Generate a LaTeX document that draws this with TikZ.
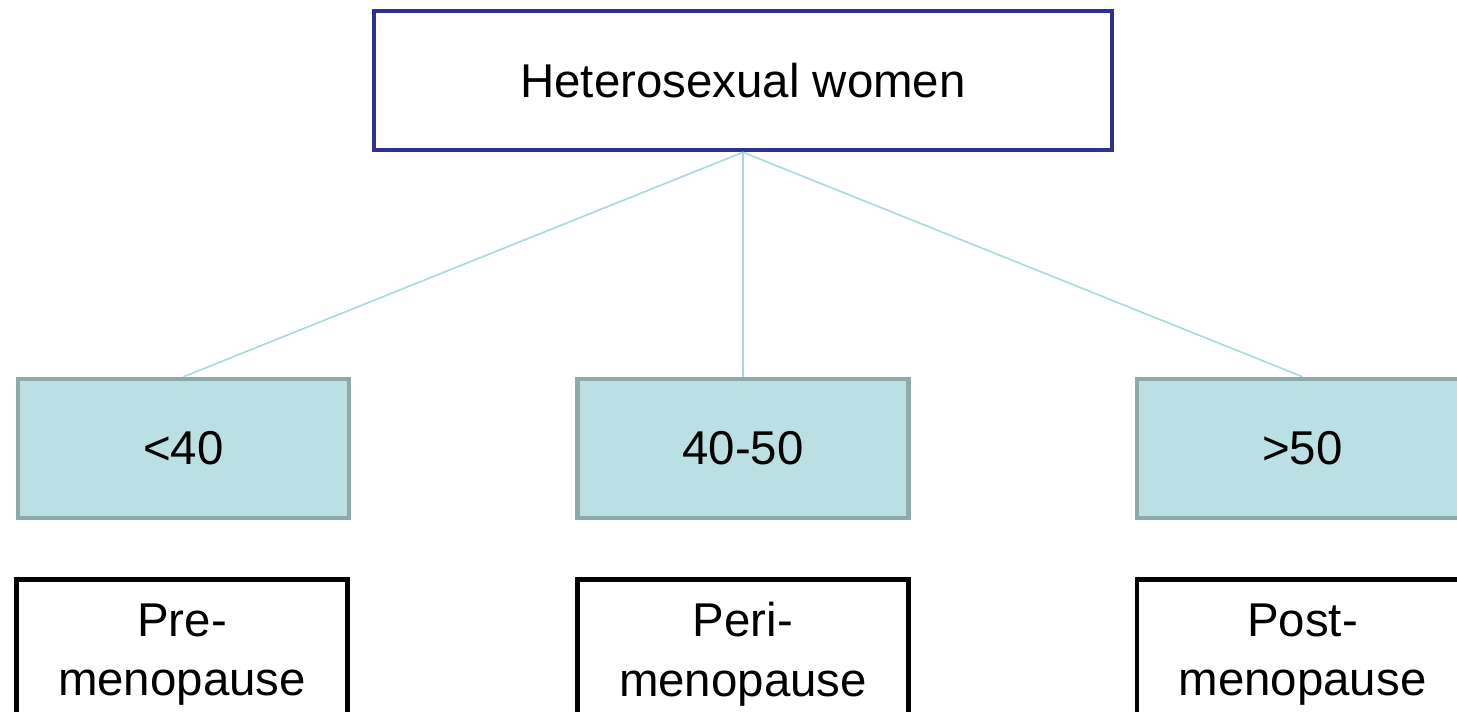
\documentclass[tikz,border=0pt]{standalone}
\usepackage{fontspec}
\setmainfont{Liberation Sans}
\definecolor{topblue}{HTML}{2E3192}
\definecolor{agefill}{HTML}{BBE0E3}
\definecolor{ageline}{HTML}{8DA9AA}
\definecolor{linkline}{HTML}{A8D8DC}
\begin{document}
\begin{tikzpicture}[x=0.02cm,y=-0.02cm,
    every node/.style={font=\fontsize{27}{34}\selectfont},
    topbox/.style={draw=topblue,line width=2.6pt,fill=white,
        minimum width=14.76cm,minimum height=2.78cm},
    agebox/.style={draw=ageline,line width=2.6pt,fill=agefill,
        minimum width=6.62cm,minimum height=2.78cm},
    stagebox/.style={draw=black,line width=2.6pt,fill=white,align=center,
        minimum width=6.62cm,minimum height=3.0cm},
    link/.style={draw=linkline,line width=0.9pt}]
    % Fix the frame
    \useasboundingbox (0,0) rectangle (1457,711);
    % Top box
    \node[topbox] (women) at (743,80.5) {Heterosexual women};
    % Age groups
    \node[agebox] (under40) at (183.5,448.5) {<40};
    \node[agebox] (fortyfifty) at (743,448.5) {40-50};
    \node[agebox] (over50) at (1302.5,448.5) {>50};
    % Menopause stages
    \node[stagebox] (pre) at (182,654.5) {Pre-\\menopause};
    \node[stagebox] (peri) at (743,654.5) {Peri-\\menopause};
    \node[stagebox] (post) at (1302.5,654.5) {Post-\\menopause};
    % Links
    \draw[link] (women.south) -- (under40.north);
    \draw[link] (women.south) -- (fortyfifty.north);
    \draw[link] (women.south) -- (over50.north);
\end{tikzpicture}
\end{document}
